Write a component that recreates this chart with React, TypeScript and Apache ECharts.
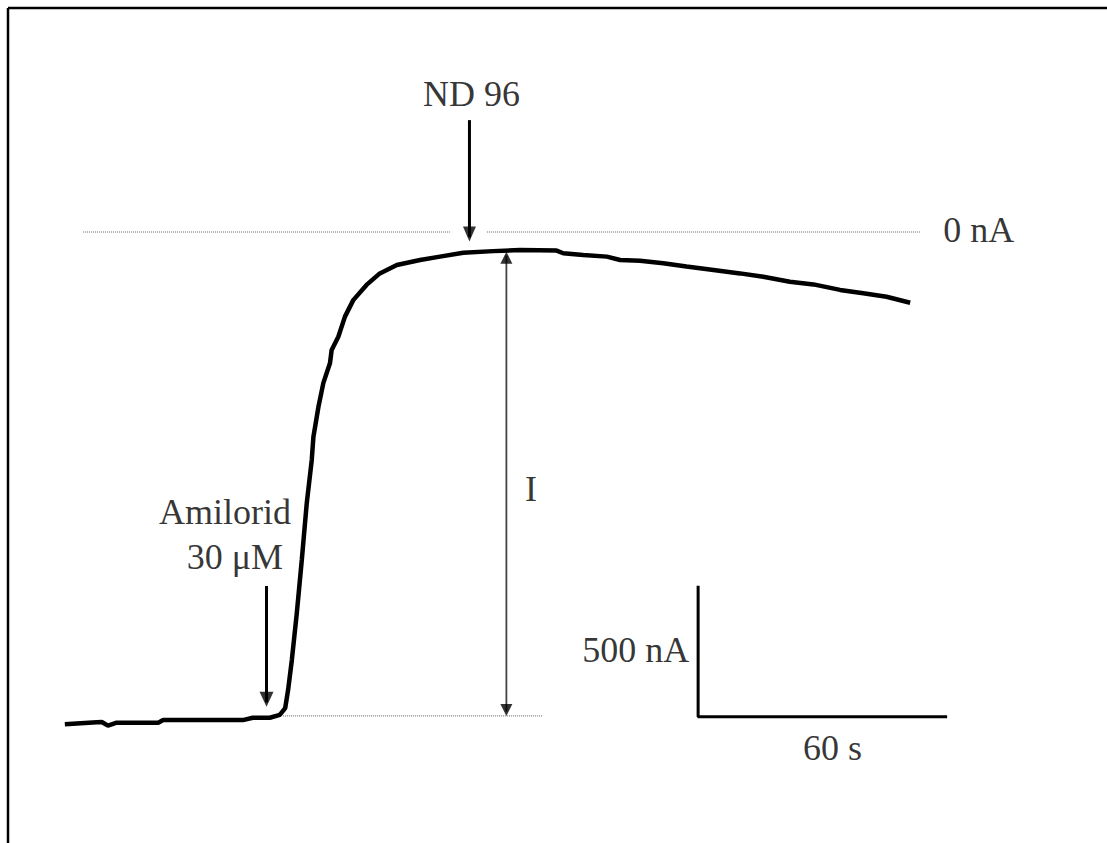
import React, { useEffect, useRef } from "react";
import * as echarts from "echarts";

// Trace: time (s) and current (nA)
const TIME_S = [0.2, 7.9, 9.1, 10.6, 12.7, 22.7, 23.9, 43.1, 45.5, 49.6, 52.0, 53.3, 54.0, 54.9, 56.1, 57.3, 58.5, 59.7, 60.1, 61.3, 62.5, 64.1, 64.5, 66.1, 67.7, 69.7, 72.9, 76.1, 80.2, 85.8, 90.6, 96.2, 103.4, 109.9, 118.7, 120.3, 125.1, 130.8, 134.0, 138.8, 144.4, 150.0, 156.5, 162.9, 168.5, 174.9, 180.6, 187.0, 192.6, 198.2, 203.9];
const CURRENT_NA = [-1879, -1871, -1870, -1884, -1873, -1873, -1863, -1863, -1854, -1854, -1843, -1817, -1748, -1634, -1454, -1252, -1034, -870, -782, -668, -576, -500, -450, -400, -323, -260, -202, -158, -126, -107, -94, -79, -73, -69, -71, -81, -88, -94, -107, -110, -119, -132, -145, -158, -171, -190, -200, -221, -234, -247, -270];

// Reference lines
const ZERO_LINE_A = [[4.6, 0], [93.2, 0]];
const ZERO_LINE_B = [[101.9, 0], [206.3, 0]];
const BASELINE_LINE = [[52.8, -1847], [115.4, -1847]];

// Arrows (shafts)
const ND96_SHAFT = [[97.7, 427], [97.7, -20]];
const AMILORID_SHAFT = [[48.8, -1351], [48.8, -1795]];
const I_SHAFT = [[106.6, -90], [106.6, -1830]];
// Arrow heads: [t, I, rotation, w, h]
const ARROW_HEADS = [
  [97.7, -8, 180, 13, 15],
  [48.8, -1783, 180, 14, 15],
  [106.6, -98, 0, 12, 12],
  [106.6, -1824, 180, 12, 12],
];

// Scale bar: 60 s, 500 nA
const SCALE_BAR = [[152.8, -1350], [152.8, -1850], [212.8, -1850]];

// Text labels
const LABELS = [
  { name: "ND 96", value: [98.2, 526] },
  { name: "0 nA", value: [220.4, 6] },
  { name: "Amilorid", value: [38.8, -1069] },
  { name: "30 μM", value: [41.2, -1242] },
  { name: "I", value: [112.5, -981] },
  { name: "500 nA", value: [137.8, -1595] },
  { name: "60 s", value: [185.2, -1968] },
];

const FONT = "'Liberation Serif', 'Times New Roman', serif";

export default function App() {
  const ref = useRef<HTMLDivElement>(null);
  useEffect(() => {
    const chart = echarts.init(ref.current!, null, { renderer: "svg" });
    const lineSeries = (data: number[][], color: string, width: number, type: any = "solid", z = 2) => ({
      type: "line",
      data,
      symbol: "none",
      silent: true,
      clip: false,
      z,
      lineStyle: { color, width, type, cap: "butt" },
    });
    chart.setOption({
      animation: false,
      backgroundColor: "#fff",
      grid: { left: 64, top: 22.4, width: 996, height: 786 },
      xAxis: { type: "value", min: 0, max: 240, show: false, splitLine: { show: false } },
      yAxis: { type: "value", min: -2200, max: 800, show: false, splitLine: { show: false } },
      graphic: [
        { type: "line", shape: { x1: 8, y1: 8, x2: 1107, y2: 8 }, style: { stroke: "#000", lineWidth: 2.5 } },
        { type: "line", shape: { x1: 8, y1: 8, x2: 8, y2: 843 }, style: { stroke: "#000", lineWidth: 2.5 } },
      ],
      series: [
        lineSeries(ZERO_LINE_A, "#666", 1, "dotted", 1),
        lineSeries(ZERO_LINE_B, "#666", 1, "dotted", 1),
        lineSeries(BASELINE_LINE, "#666", 1, "dotted", 1),
        {
          type: "line",
          data: TIME_S.map((t, i) => [t, CURRENT_NA[i]]),
          symbol: "none",
          silent: true,
          z: 5,
          lineStyle: { color: "#000", width: 4.5 },
        },
        lineSeries(ND96_SHAFT, "#000", 3),
        lineSeries(AMILORID_SHAFT, "#000", 3),
        lineSeries(I_SHAFT, "#444", 1.8),
        {
          type: "scatter",
          silent: true,
          clip: false,
          z: 6,
          data: ARROW_HEADS.map((a) => ({
            value: [a[0], a[1]],
            symbolRotate: a[2],
            symbolSize: [a[3], a[4]],
          })),
          symbol: "triangle",
          itemStyle: { color: "#000" },
        },
        lineSeries(SCALE_BAR, "#000", 3),
        {
          type: "scatter",
          silent: true,
          clip: false,
          z: 7,
          symbolSize: 0,
          data: LABELS,
          label: {
            show: true,
            position: "inside",
            formatter: (p: any) => p.name,
            fontFamily: FONT,
            fontSize: 36,
            color: "#000",
            align: "center",
            verticalAlign: "middle",
          },
        },
      ],
    });
    return () => chart.dispose();
  }, []);
  return (
    <div
      ref={ref}
      style={{ position: "absolute", left: 0, top: 0, width: 1107, height: 843, background: "#fff" }}
    />
  );
}
